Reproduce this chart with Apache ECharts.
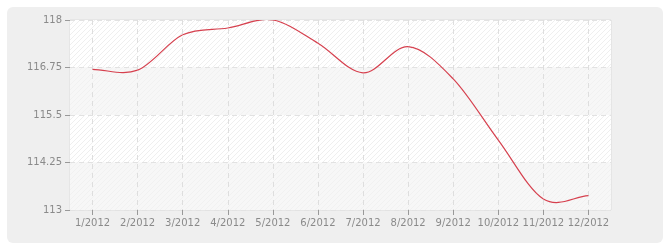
<!DOCTYPE html>
<html><head><meta charset="utf-8">
<script src="https://cdn.jsdelivr.net/npm/echarts@6/dist/echarts.min.js"></script>
<style>html,body{margin:0;padding:0;background:#fff}#c{width:670px;height:250px}</style>
</head><body><div id="c"></div>
<script>
var categories = ['1/2012','2/2012','3/2012','4/2012','5/2012','6/2012','7/2012','8/2012','9/2012','10/2012','11/2012','12/2012'];
var values = [116.70, 116.68, 117.61, 117.79, 118.0, 117.39, 116.61, 117.30, 116.45, 114.84, 113.29, 113.38];
var yTicks = [113, 114.25, 115.5, 116.75, 118];

function hatch(bg, line) {
  var s = 5;
  var c = document.createElement('canvas');
  c.width = s; c.height = s;
  var g = c.getContext('2d');
  g.fillStyle = bg; g.fillRect(0, 0, s, s);
  g.strokeStyle = line; g.lineWidth = 1;
  g.beginPath();
  g.moveTo(-1, s + 1); g.lineTo(s + 1, -1);
  g.moveTo(-1, 1); g.lineTo(1, -1);
  g.moveTo(s - 1, s + 1); g.lineTo(s + 1, s - 1);
  g.stroke();
  return {image: c, repeat: 'repeat'};
}

// Catmull-Rom spline segment from point i to i+1, via the axis scales
function renderSeg(params, api) {
  var i = params.dataIndex;
  var n = values.length;
  if (i >= n - 1) return null;
  var P = function (k) { k = Math.max(0, Math.min(n - 1, k)); return api.coord([k, values[k]]); };
  var p0 = P(i - 1), p1 = P(i), p2 = P(i + 1), p3 = P(i + 2);
  var t1x, t1y, t2x, t2y;
  if (i === 0) { t1x = (p2[0] - p1[0]); t1y = (p2[1] - p1[1]); } else { t1x = (p2[0] - p0[0]) / 2; t1y = (p2[1] - p0[1]) / 2; }
  if (i + 1 === n - 1) { t2x = (p2[0] - p1[0]); t2y = (p2[1] - p1[1]); } else { t2x = (p3[0] - p1[0]) / 2; t2y = (p3[1] - p1[1]) / 2; }
  return {
    type: 'bezierCurve',
    shape: {x1: p1[0], y1: p1[1], x2: p2[0], y2: p2[1],
      cpx1: p1[0] + t1x / 3, cpy1: p1[1] + t1y / 3,
      cpx2: p2[0] - t2x / 3, cpy2: p2[1] - t2y / 3},
    style: {fill: null, stroke: '#d6404e', lineWidth: 1.2}
  };
}

var chart = echarts.init(document.getElementById('c'), null, {renderer: 'canvas'});
var font = 'DejaVu Sans';
chart.setOption({
  backgroundColor: '#ffffff',
  animation: false,
  graphic: [{
    type: 'rect', z: -10, silent: true,
    shape: {x: 7, y: 7, width: 656, height: 236, r: 6},
    style: {fill: '#efefef'}
  }],
  grid: {left: 70, top: 20, right: 59, bottom: 40, show: true, borderColor: '#dcdcdc', borderWidth: 1, backgroundColor: 'transparent'},
  xAxis: {
    type: 'category', data: categories, boundaryGap: true,
    axisLine: {show: false},
    axisTick: {show: true, alignWithLabel: true, length: 5, lineStyle: {color: '#999999'}},
    axisLabel: {color: '#8a8a8a', fontFamily: font, fontSize: 10, margin: 8, interval: 0},
    splitLine: {show: true, alignWithLabel: true, lineStyle: {color: '#dedede', type: [5, 4], width: 1}}
  },
  yAxis: {
    type: 'value', min: yTicks[0], max: yTicks[yTicks.length - 1], interval: 1.25,
    axisLine: {show: false},
    axisTick: {show: true, length: 5, lineStyle: {color: '#999999'}},
    axisLabel: {color: '#8a8a8a', fontFamily: font, fontSize: 10, margin: 8},
    splitLine: {show: true, lineStyle: {color: '#e2e2e2', type: [5, 4], width: 1}},
    splitArea: {show: true, areaStyle: {color: [hatch('#f7f7f7', '#f1f1f1'), hatch('#ffffff', '#efefef')]}}
  },
  series: [{
    type: 'custom',
    renderItem: renderSeg,
    data: values.map(function (v, i) { return [i, v]; }),
    encode: {x: 0, y: 1},
    clip: true
  }]
});
</script></body></html>
